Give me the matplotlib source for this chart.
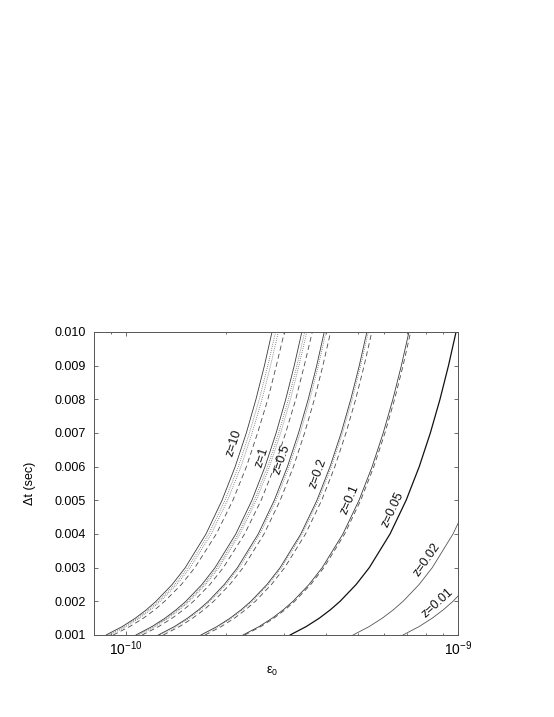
#!/usr/bin/env python3.12
"""Delta t versus epsilon_0 for several redshifts (log x axis)."""

import matplotlib

matplotlib.use("Agg")
import matplotlib.pyplot as plt
from matplotlib.ticker import LogLocator, FixedLocator, NullFormatter

plt.rcParams["font.family"] = ["Liberation Sans", "DejaVu Sans"]
plt.rcParams["mathtext.fontset"] = "custom"
plt.rcParams["mathtext.rm"] = "Liberation Sans"
plt.rcParams["mathtext.it"] = "Liberation Sans:italic"

# =========================
# DATA
# =========================

# Delta t levels in seconds
DT = [0.001, 0.00125, 0.0015, 0.00175, 0.002, 0.0025, 0.003,
      0.004, 0.005, 0.006, 0.007, 0.008, 0.009, 0.010]

# epsilon_0 in units of 1e-10, one value per DT level
EPS_Z10 = [0.870, 0.973, 1.066, 1.151, 1.230, 1.376, 1.507, 1.740, 1.945, 2.131, 2.302, 2.461, 2.610, 2.751]
EPS_Z10_DOT_A = [0.880, 0.986, 1.081, 1.168, 1.250, 1.400, 1.534, 1.774, 1.986, 2.178, 2.352, 2.519, 2.672, 2.820]
EPS_Z10_DOT_B = [0.892, 0.999, 1.096, 1.185, 1.268, 1.421, 1.559, 1.804, 2.021, 2.218, 2.396, 2.567, 2.723, 2.875]
EPS_Z10_DASH = [0.914, 1.025, 1.127, 1.220, 1.306, 1.467, 1.611, 1.869, 2.097, 2.304, 2.489, 2.673, 2.835, 2.999]

EPS_Z1 = [1.070, 1.196, 1.310, 1.415, 1.513, 1.692, 1.853, 2.140, 2.393, 2.621, 2.831, 3.026, 3.210, 3.384]
EPS_Z1_DOT_A = [1.081, 1.209, 1.325, 1.433, 1.533, 1.716, 1.880, 2.174, 2.434, 2.668, 2.882, 3.083, 3.270, 3.452]
EPS_Z1_DOT_B = [1.091, 1.222, 1.340, 1.448, 1.550, 1.736, 1.903, 2.202, 2.466, 2.704, 2.921, 3.127, 3.317, 3.502]
EPS_Z1_DASH = [1.118, 1.253, 1.376, 1.489, 1.595, 1.788, 1.963, 2.275, 2.551, 2.800, 3.024, 3.244, 3.441, 3.638]

EPS_Z05 = [1.250, 1.398, 1.531, 1.654, 1.768, 1.976, 2.165, 2.500, 2.795, 3.062, 3.307, 3.536, 3.751, 3.953]
EPS_Z05_DOT = [1.265, 1.415, 1.549, 1.674, 1.789, 2.000, 2.191, 2.530, 2.829, 3.099, 3.347, 3.578, 3.795, 4.000]
EPS_Z05_DASH = [1.294, 1.448, 1.587, 1.716, 1.835, 2.053, 2.251, 2.603, 2.912, 3.193, 3.449, 3.692, 3.916, 4.131]

EPS_Z02 = [1.680, 1.878, 2.057, 2.222, 2.376, 2.656, 2.910, 3.360, 3.757, 4.115, 4.445, 4.752, 5.041, 5.313]
EPS_Z02_DOT = [1.697, 1.897, 2.078, 2.244, 2.400, 2.683, 2.939, 3.394, 3.795, 4.156, 4.489, 4.800, 5.091, 5.366]
EPS_Z02_DASH = [1.730, 1.935, 2.121, 2.291, 2.451, 2.741, 3.004, 3.471, 3.883, 4.255, 4.596, 4.916, 5.214, 5.499]

EPS_Z01 = [2.250, 2.516, 2.756, 2.977, 3.182, 3.557, 3.897, 4.500, 5.031, 5.511, 5.952, 6.364, 6.750, 7.115]
EPS_Z01_DASH = [2.277, 2.546, 2.789, 3.013, 3.220, 3.600, 3.944, 4.554, 5.091, 5.577, 6.024, 6.440, 6.831, 7.200]

EPS_Z005 = [3.120, 3.488, 3.821, 4.127, 4.412, 4.933, 5.404, 6.240, 6.977, 7.642, 8.254, 8.825, 9.361, 9.866]
EPS_Z002 = [4.830, 5.400, 5.915, 6.390, 6.831, 7.637, 8.366, 9.660, 10.80]
EPS_Z001 = [6.830, 7.636, 8.365, 9.035, 9.659, 10.80]

# curve labels: text, epsilon_0 (1e-10), Delta t, rotation
LABELS = [
    ("z=10", 2.115, 0.00670, 72),
    ("z=1", 2.568, 0.00629, 72),
    ("z=0.5", 2.95, 0.00620, 71),
    ("z=0.2", 3.79, 0.00581, 70),
    ("z=0.1", 4.73, 0.00501, 67),
    ("z=0.05", 6.37, 0.00471, 65),
    ("z=0.02", 8.07, 0.00323, 55),
    ("z=0.01", 8.65, 0.00195, 42),
]

OUTPUT_FILE = "out.png"

SOLID = dict(color="#3a3a3a", linewidth=0.6, linestyle="-")
DOTTED = dict(color="#666666", linewidth=0.6, linestyle=(0, (1, 1.5)))
DASHED = dict(color="#4a4a4a", linewidth=0.6, linestyle=(0, (6, 4)))


def draw(ax, eps, style, **extra):
    x = [e * 1e-10 for e in eps]
    ax.plot(x, DT[:len(eps)], **{**style, **extra})


def main() -> None:
    fig = plt.figure(figsize=(5.54, 7.17), dpi=100)
    ax = fig.add_axes([0.1697, 0.1144, 0.657, 0.4226])

    for eps in (EPS_Z10, EPS_Z1, EPS_Z05, EPS_Z02, EPS_Z01):
        draw(ax, eps, SOLID)
    for eps in (EPS_Z10_DOT_A, EPS_Z10_DOT_B, EPS_Z1_DOT_A, EPS_Z1_DOT_B,
                EPS_Z05_DOT, EPS_Z02_DOT):
        draw(ax, eps, DOTTED)
    for eps in (EPS_Z10_DASH, EPS_Z1_DASH, EPS_Z05_DASH, EPS_Z02_DASH, EPS_Z01_DASH):
        draw(ax, eps, DASHED)
    draw(ax, EPS_Z005, SOLID, color="#111111", linewidth=0.9)
    draw(ax, EPS_Z002, SOLID, color="#555555")
    draw(ax, EPS_Z001, SOLID, color="#555555")

    for text, e, dt, rot in LABELS:
        ax.text(e * 1e-10, dt, text, rotation=rot, rotation_mode="anchor",
                ha="center", va="center", fontsize=9, color="#111111")

    ax.set_xscale("log")
    ax.set_xlim(8e-11, 1e-9)
    ax.set_ylim(0.001, 0.010)

    ax.xaxis.set_major_locator(FixedLocator([1e-10, 1e-9]))
    ax.xaxis.set_minor_locator(LogLocator(base=10, subs=range(2, 10)))
    ax.xaxis.set_minor_formatter(NullFormatter())
    ax.set_xticklabels([r"$10^{-10}$", r"$10^{-9}$"])
    ax.set_yticks([0.001 * i for i in range(1, 11)])
    ax.set_yticklabels([f"{0.001 * i:.3f}" for i in range(1, 11)])

    ax.tick_params(which="both", direction="in", top=True, right=True,
                   color="#555555", width=0.6, labelsize=9)
    ax.tick_params(which="major", length=3.2)
    ax.tick_params(which="minor", length=1.6)
    ax.tick_params(axis="x", which="major", pad=3, labelsize=10)
    ax.tick_params(axis="y", which="major", pad=6)

    for spine in ax.spines.values():
        spine.set_color("#555555")
        spine.set_linewidth(0.7)

    ax.set_xlabel(r"$\mathrm{\varepsilon}_0$", fontsize=9)
    ax.set_ylabel("Δt (sec)", fontsize=9)
    ax.xaxis.set_label_coords(0.49, -0.10)
    ax.yaxis.set_label_coords(-0.16, 0.5)

    fig.savefig(OUTPUT_FILE, dpi=100)


if __name__ == "__main__":
    main()
